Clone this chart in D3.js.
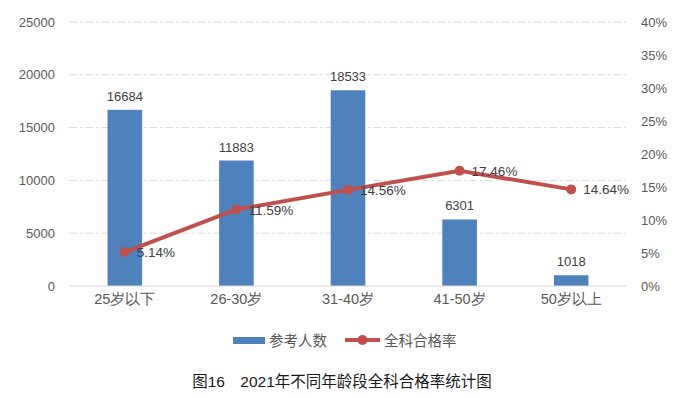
<!DOCTYPE html>
<html>
<head>
<meta charset="utf-8">
<script src="https://cdn.jsdelivr.net/npm/d3@7"></script>
<style>
  body { margin: 0; background: #fff; }
  svg { font-family: "Liberation Sans", "Noto Sans CJK SC", sans-serif; }
</style>
</head>
<body>
<div id="chart"></div>
<script>
const categories = ['25岁以下', '26-30岁', '31-40岁', '41-50岁', '50岁以上'];
const counts = [16684, 11883, 18533, 6301, 1018];
const passRates = [5.14, 11.59, 14.56, 17.46, 14.64];
const leftTicks = [0, 5000, 10000, 15000, 20000, 25000];
const rightTicks = [0, 5, 10, 15, 20, 25, 30, 35, 40];

const W = 683, H = 398;
const plot = { left: 69, right: 627, top: 22, bottom: 286 };

const svg = d3.select('#chart').append('svg')
	.attr('width', W)
	.attr('height', H);

const x = d3.scaleBand()
	.domain(categories)
	.range([plot.left, plot.right])
	.paddingInner(0.69)
	.paddingOuter(0.345);

const y = d3.scaleLinear().domain([0, 25000]).range([plot.bottom, plot.top]);
const y2 = d3.scaleLinear().domain([0, 40]).range([plot.bottom, plot.top]);

// gridlines
svg.append('g')
	.selectAll('line')
	.data(leftTicks.filter(d => d > 0))
	.join('line')
	.attr('x1', plot.left).attr('x2', plot.right)
	.attr('y1', d => y(d)).attr('y2', d => y(d))
	.attr('stroke', '#d9d9d9')
	.attr('stroke-width', 1)
	.attr('stroke-dasharray', '8,3,2,3');

// left axis
const leftAxis = svg.append('g')
	.attr('transform', `translate(${plot.left},0)`)
	.call(d3.axisLeft(y).tickValues(leftTicks).tickSize(0).tickPadding(14).tickFormat(d3.format('d')));
leftAxis.select('.domain').remove();
leftAxis.selectAll('text').attr('font-size', 13).attr('fill', '#595959');

// right axis
const rightAxis = svg.append('g')
	.attr('transform', `translate(${plot.right},0)`)
	.call(d3.axisRight(y2).tickValues(rightTicks).tickSize(0).tickPadding(14).tickFormat(d => d + '%'));
rightAxis.select('.domain').remove();
rightAxis.selectAll('text').attr('font-size', 13).attr('fill', '#595959');

// bars
svg.append('g')
	.selectAll('rect')
	.data(counts)
	.join('rect')
	.attr('x', (d, i) => x(categories[i]))
	.attr('y', d => y(d))
	.attr('width', x.bandwidth())
	.attr('height', d => y(0) - y(d))
	.attr('fill', '#4f81bd');

svg.append('g')
	.selectAll('text')
	.data(counts)
	.join('text')
	.attr('x', (d, i) => x(categories[i]) + x.bandwidth() / 2)
	.attr('y', d => y(d) - 9)
	.attr('text-anchor', 'middle')
	.attr('font-size', 13)
	.attr('fill', '#404040')
	.text(d => d);

// baseline
svg.append('line')
	.attr('x1', plot.left).attr('x2', plot.right)
	.attr('y1', y(0)).attr('y2', y(0))
	.attr('stroke', '#d9d9d9');

// x axis labels
const bottomAxis = svg.append('g')
	.attr('transform', `translate(0,${plot.bottom})`)
	.call(d3.axisBottom(x).tickSize(0).tickPadding(8));
bottomAxis.select('.domain').remove();
bottomAxis.selectAll('text').attr('font-size', 14.5).attr('fill', '#595959');

// line
const cx = (d, i) => x(categories[i]) + x.bandwidth() / 2;
svg.append('path')
	.datum(passRates)
	.attr('fill', 'none')
	.attr('stroke', '#c0504d')
	.attr('stroke-width', 4)
	.attr('d', d3.line().x(cx).y(d => y2(d)));

svg.append('g')
	.selectAll('circle')
	.data(passRates)
	.join('circle')
	.attr('cx', cx)
	.attr('cy', d => y2(d))
	.attr('r', 5)
	.attr('fill', '#c0504d');

svg.append('g')
	.selectAll('text')
	.data(passRates)
	.join('text')
	.attr('x', (d, i) => cx(d, i) + 12)
	.attr('y', d => y2(d) + 5)
	.attr('font-size', 13.5)
	.attr('fill', '#404040')
	.text(d => d.toFixed(2) + '%');

// legend
const lg = svg.append('g');
lg.append('rect')
	.attr('x', 233).attr('y', 337).attr('width', 32).attr('height', 7)
	.attr('fill', '#4f81bd');
lg.append('text')
	.attr('x', 269).attr('y', 346)
	.attr('font-size', 14.5).attr('fill', '#595959')
	.text('参考人数');
lg.append('line')
	.attr('x1', 345).attr('x2', 380).attr('y1', 340).attr('y2', 340)
	.attr('stroke', '#c0504d').attr('stroke-width', 4);
lg.append('circle')
	.attr('cx', 362.5).attr('cy', 340).attr('r', 5)
	.attr('fill', '#c0504d');
lg.append('text')
	.attr('x', 384).attr('y', 346)
	.attr('font-size', 14.5).attr('fill', '#595959')
	.text('全科合格率');

// caption
svg.append('text')
	.attr('x', 342).attr('y', 387)
	.attr('text-anchor', 'middle')
	.attr('font-size', 15.5)
	.attr('fill', '#1a1a1a')
	.text('图16\u30002021年不同年龄段全科合格率统计图');
</script>
</body>
</html>
